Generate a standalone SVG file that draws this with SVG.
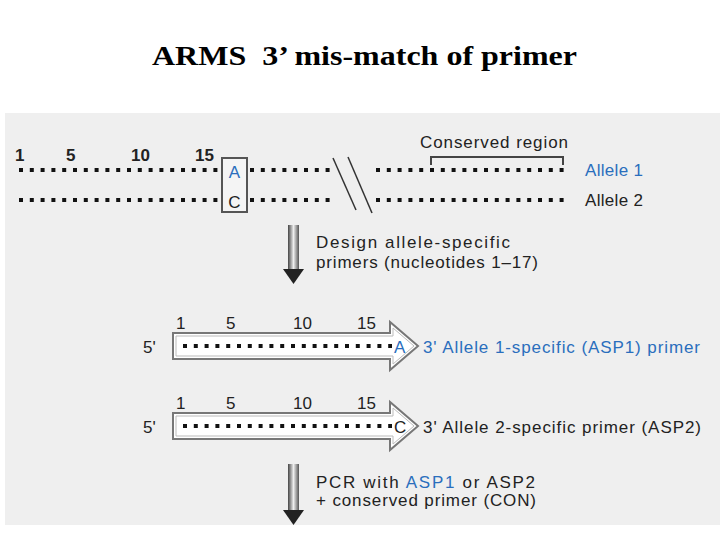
<svg xmlns="http://www.w3.org/2000/svg" width="720" height="540" viewBox="0 0 720 540">
<defs>
<style>
.t{font-family:"Liberation Sans",Arial,sans-serif;font-size:17px;fill:#222}
.n{font-family:"Liberation Sans",Arial,sans-serif;font-size:17px;fill:#222}
.b{fill:#2a6ebd}
.dots{stroke:#111;stroke-width:4;stroke-dasharray:4 6.8;fill:none}
.prim{fill:#fff;stroke:#777;stroke-width:2}
</style>
<linearGradient id="g" x1="0" x2="1" y1="0" y2="0">
<stop offset="0" stop-color="#444"/><stop offset="0.5" stop-color="#eee"/><stop offset="1" stop-color="#555"/>
</linearGradient>
</defs>
<rect width="720" height="540" fill="#fff"/>
<text x="152" y="65" textLength="425" lengthAdjust="spacingAndGlyphs" font-family="Liberation Serif,Times New Roman,serif" font-size="28" font-weight="bold" fill="#000" xml:space="preserve">ARMS  3’ mis-match of primer</text>
<rect x="5" y="113" width="715" height="412" fill="#efefef"/>

<g id="alleles">
<text class="n" x="15" y="161" font-weight="bold">1</text>
<text class="n" x="66" y="161" font-weight="bold">5</text>
<text class="n" x="131" y="161" font-weight="bold">10</text>
<text class="n" x="195" y="161" font-weight="bold">15</text>
<line class="dots" x1="19" y1="170" x2="222" y2="170"/>
<line class="dots" x1="19" y1="200" x2="222" y2="200"/>
<line class="dots" x1="250" y1="170" x2="335" y2="170"/>
<line class="dots" x1="250" y1="200" x2="335" y2="200"/>
<rect x="222" y="158" width="25" height="54" fill="#f4f4f4" stroke="#555" stroke-width="2"/>
<text class="t b" x="234.5" y="178" text-anchor="middle">A</text>
<text class="t" x="234.5" y="208" text-anchor="middle">C</text>
<line x1="333" y1="158" x2="356" y2="210" stroke="#333" stroke-width="1.5"/>
<line x1="348" y1="157" x2="372" y2="213" stroke="#333" stroke-width="1.5"/>
<line class="dots" x1="376" y1="170" x2="565" y2="170"/>
<line class="dots" x1="376" y1="200" x2="565" y2="200"/>
<text class="t" x="420" y="148" textLength="148">Conserved region</text>
<path d="M431 165 V157 H563 V165" fill="none" stroke="#444" stroke-width="2"/>
<text class="t b" x="585" y="176" textLength="58">Allele 1</text>
<text class="t" x="585" y="206" textLength="58">Allele 2</text>
</g>

<g id="step1">
<rect x="288" y="225" width="11" height="47" fill="url(#g)"/>
<path d="M283 269 H304 L293.5 284 Z" fill="#222"/>
<text class="t" x="316" y="248" textLength="194">Design allele-specific</text>
<text class="t" x="316" y="268" textLength="222">primers (nucleotides 1–17)</text>
</g>

<g id="asp1">
<text class="t" x="176" y="329">1</text>
<text class="t" x="226" y="329">5</text>
<text class="t" x="293" y="329">10</text>
<text class="t" x="357" y="329">15</text>
<text class="t" x="143" y="353">5'</text>
<path class="prim" d="M173 333 H390 V322 L418 346 L390 370 V359 H173 Z"/>
<path d="M176 336 H393 V328 L414 346 L393 364 V356 H176 Z" fill="none" stroke="#bbb" stroke-width="1"/>
<line class="dots" x1="183" y1="346" x2="392" y2="346"/>
<text class="t b" x="394" y="353">A</text>
<text class="t b" x="423" y="353" textLength="277">3' Allele 1-specific (ASP1) primer</text>
</g>

<g id="asp2">
<text class="t" x="176" y="409">1</text>
<text class="t" x="226" y="409">5</text>
<text class="t" x="293" y="409">10</text>
<text class="t" x="357" y="409">15</text>
<text class="t" x="143" y="433">5'</text>
<path class="prim" d="M173 413 H390 V402 L418 426 L390 450 V439 H173 Z"/>
<path d="M176 416 H393 V408 L414 426 L393 444 V436 H176 Z" fill="none" stroke="#bbb" stroke-width="1"/>
<line class="dots" x1="183" y1="426" x2="392" y2="426"/>
<text class="t" x="394" y="433">C</text>
<text class="t" x="423" y="433" textLength="278">3' Allele 2-specific primer (ASP2)</text>
</g>

<g id="step2">
<rect x="288" y="464" width="11" height="48" fill="url(#g)"/>
<path d="M283 510 H304 L293.5 525 Z" fill="#222"/>
<text class="t" x="316" y="488" textLength="219">PCR with <tspan class="b">ASP1</tspan> or ASP2</text>
<text class="t" x="316" y="506" textLength="220">+ conserved primer (CON)</text>
</g>
</svg>
